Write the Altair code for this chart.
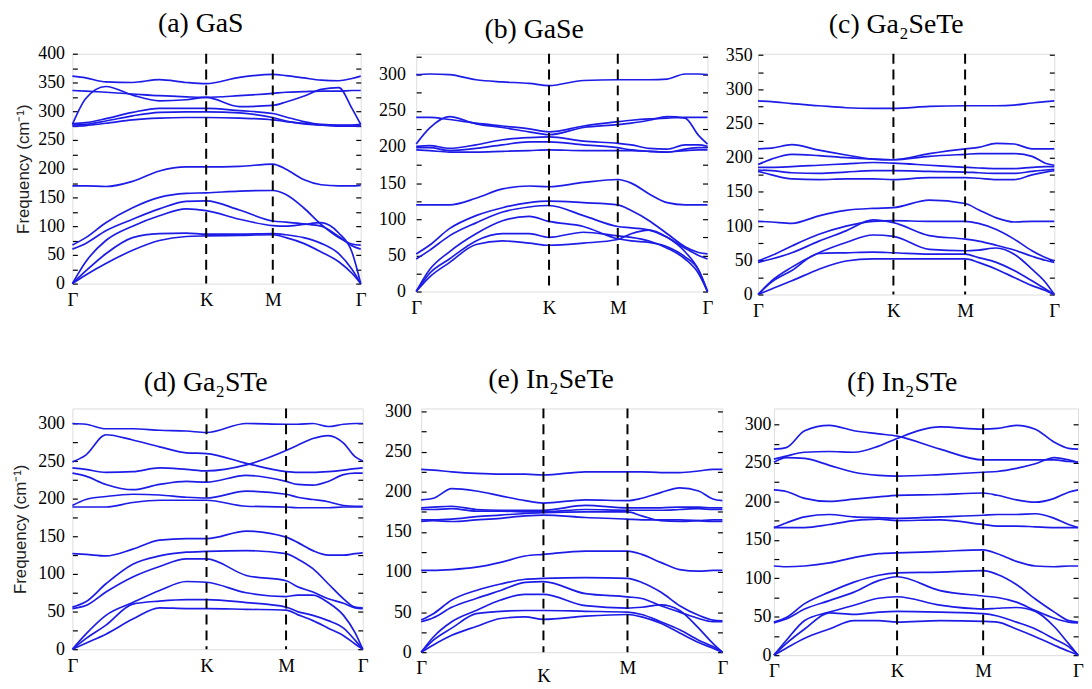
import altair as alt
import pandas as pd

# sample positions along each path segment (fraction of the segment)
GK = [0, 0.1, 0.25, 0.45, 0.65, 0.85, 1.0]
KM = [0.5, 1.0]
MG = [0.15, 0.35, 0.55, 0.75, 0.9, 1.0]

# ---------------- (a) GaS ----------------
a_bands = [
    [361, 358, 351, 350, 355, 350, 348, 359, 364, 362, 358, 354, 353, 357, 361],
    [336, 335, 333, 330, 327, 325, 324, 327, 331, 333, 334, 335, 335, 336, 336],
    [277, 322, 343, 328, 318, 320, 324, 308, 310, 316, 326, 338, 341, 305, 277],
    [278, 280, 287, 298, 305, 305, 305, 301, 296, 290, 282, 277, 276, 276, 277],
    [276, 277, 283, 292, 298, 299, 299, 297, 289, 283, 278, 276, 275, 275, 276],
    [274, 275, 279, 285, 288, 289, 289, 288, 285, 282, 279, 276, 274, 274, 274],
    [170, 170, 169, 178, 196, 203, 203, 204, 208, 199, 181, 172, 170, 170, 171],
    [67, 80, 106, 132, 150, 157, 158, 161, 162, 155, 132, 103, 80, 69, 67],
    [60, 70, 92, 112, 130, 143, 144, 128, 109, 107, 104, 100, 82, 66, 60],
    [0, 38, 75, 100, 118, 130, 127, 112, 101, 100, 103, 106, 88, 55, 0],
    [0, 22, 52, 80, 87, 88, 86, 86, 87, 85, 80, 70, 52, 25, 0],
    [0, 15, 35, 58, 75, 82, 83, 84, 85, 80, 70, 55, 38, 18, 0],
]
# ---------------- (b) GaSe ----------------
b_bands = [
    [300, 301, 300, 293, 290, 288, 285, 292, 293, 293, 293, 294, 301, 301, 300],
    [241, 241, 238, 233, 229, 225, 221, 229, 235, 237, 239, 240, 241, 241, 241],
    [204, 226, 242, 232, 227, 221, 217, 227, 231, 233, 237, 242, 240, 216, 204],
    [201, 202, 198, 203, 210, 213, 214, 208, 205, 203, 198, 197, 203, 203, 201],
    [199, 199, 195, 198, 203, 207, 207, 203, 199, 196, 194, 193, 197, 199, 199],
    [196, 195, 193, 193, 194, 195, 196, 195, 195, 195, 194, 193, 195, 196, 196],
    [120, 120, 120, 129, 142, 146, 145, 151, 155, 150, 135, 123, 120, 120, 120],
    [52, 64, 87, 105, 116, 123, 125, 123, 120, 112, 98, 80, 62, 54, 52],
    [45, 57, 77, 95, 110, 117, 119, 105, 90, 88, 85, 75, 60, 50, 45],
    [0, 30, 55, 80, 98, 104, 97, 90, 73, 70, 68, 62, 48, 30, 0],
    [0, 25, 45, 70, 80, 80, 75, 82, 77, 75, 70, 60, 45, 25, 0],
    [0, 20, 40, 65, 70, 67, 64, 67, 72, 80, 85, 75, 55, 30, 0],
]
# ---------------- (c) Ga2SeTe ----------------
c_bands = [
    [283, 282, 279, 276, 273, 272, 272, 275, 276, 276, 276, 277, 280, 282, 283],
    [213, 214, 219, 211, 204, 198, 197, 206, 213, 215, 221, 220, 213, 213, 213],
    [190, 198, 205, 203, 200, 198, 197, 202, 205, 206, 206, 206, 202, 192, 189],
    [186, 186, 187, 189, 191, 193, 192, 189, 186, 185, 184, 184, 186, 187, 187],
    [182, 181, 178, 177, 179, 181, 181, 180, 179, 178, 177, 177, 180, 182, 183],
    [180, 175, 169, 168, 169, 169, 168, 171, 171, 170, 168, 168, 175, 179, 181],
    [107, 106, 104, 115, 123, 126, 127, 138, 133, 124, 112, 106, 107, 107, 107],
    [49, 57, 71, 88, 100, 107, 108, 107, 107, 104, 95, 81, 64, 54, 49],
    [47, 52, 61, 78, 93, 109, 105, 86, 81, 78, 72, 65, 56, 50, 47],
    [0, 20, 40, 61, 76, 87, 85, 66, 64, 65, 68, 59, 37, 18, 0],
    [0, 18, 35, 60, 61, 62, 61, 59, 59, 54, 47, 35, 20, 8, 0],
    [0, 8, 20, 37, 49, 52, 52, 52, 52, 47, 37, 25, 13, 6, 0],
]
# ---------------- (d) Ga2STe ----------------
d_bands = [
    [300, 299, 293, 293, 291, 290, 288, 300, 299, 299, 300, 296, 299, 300, 300],
    [249, 258, 285, 278, 269, 261, 260, 247, 236, 235, 235, 236, 238, 240, 241],
    [241, 239, 235, 236, 241, 239, 237, 245, 264, 271, 280, 284, 274, 256, 250],
    [234, 230, 219, 212, 219, 223, 222, 231, 223, 219, 218, 223, 232, 234, 234],
    [191, 199, 203, 206, 205, 202, 201, 210, 206, 202, 199, 196, 191, 190, 190],
    [189, 189, 189, 195, 198, 198, 198, 190, 189, 188, 188, 188, 189, 189, 189],
    [127, 126, 124, 133, 145, 147, 147, 157, 149, 142, 131, 125, 125, 127, 128],
    [56, 63, 87, 113, 124, 129, 130, 131, 127, 120, 107, 87, 67, 56, 55],
    [54, 58, 76, 96, 110, 120, 120, 98, 91, 83, 76, 67, 61, 55, 54],
    [0, 20, 45, 62, 78, 90, 89, 75, 70, 72, 72, 62, 45, 22, 0],
    [0, 14, 32, 60, 64, 66, 66, 62, 56, 50, 45, 38, 28, 12, 0],
    [0, 8, 20, 40, 55, 54, 54, 53, 52, 46, 38, 28, 18, 7, 0],
]
# ---------------- (e) In2SeTe ----------------
e_bands = [
    [228, 227, 225, 223, 222, 222, 221, 225, 225, 225, 224, 224, 226, 228, 228],
    [190, 192, 204, 201, 195, 189, 186, 190, 189, 192, 199, 205, 201, 191, 189],
    [180, 181, 182, 178, 177, 177, 177, 183, 180, 180, 180, 181, 181, 180, 180],
    [178, 178, 179, 176, 176, 175, 175, 178, 177, 177, 177, 178, 179, 178, 178],
    [165, 165, 166, 169, 171, 173, 174, 175, 175, 170, 164, 163, 164, 165, 165],
    [163, 164, 163, 165, 167, 170, 171, 168, 166, 165, 165, 165, 164, 163, 163],
    [102, 102, 103, 106, 112, 120, 122, 126, 126, 122, 112, 103, 101, 102, 102],
    [40, 48, 65, 77, 85, 91, 92, 93, 92, 87, 75, 58, 46, 40, 39],
    [38, 43, 56, 67, 77, 87, 88, 73, 69, 67, 58, 50, 42, 38, 38],
    [0, 19, 38, 52, 65, 72, 72, 58, 55, 56, 59, 52, 30, 11, 0],
    [0, 15, 30, 48, 51, 52, 52, 51, 50, 47, 38, 28, 15, 7, 0],
    [0, 9, 21, 32, 42, 44, 41, 45, 47, 44, 36, 24, 12, 5, 0],
]
# ---------------- (f) In2STe ----------------
f_bands = [
    [268, 270, 292, 299, 292, 288, 285, 268, 254, 254, 254, 254, 254, 252, 251],
    [255, 259, 264, 265, 264, 272, 282, 297, 294, 295, 299, 294, 277, 269, 268],
    [251, 257, 256, 247, 238, 234, 233, 235, 238, 239, 243, 249, 257, 254, 251],
    [215, 213, 204, 200, 203, 206, 208, 209, 211, 208, 202, 199, 204, 212, 215],
    [166, 172, 180, 183, 180, 179, 178, 180, 182, 183, 183, 184, 178, 170, 166],
    [166, 166, 166, 170, 175, 177, 175, 176, 170, 168, 168, 167, 166, 166, 166],
    [116, 115, 116, 120, 127, 132, 133, 135, 137, 132, 122, 116, 115, 116, 116],
    [43, 49, 67, 82, 95, 104, 107, 108, 110, 105, 92, 73, 56, 45, 43],
    [42, 47, 60, 71, 82, 97, 102, 84, 77, 75, 69, 58, 48, 43, 42],
    [0, 19, 45, 56, 65, 74, 76, 65, 60, 61, 62, 57, 37, 15, 0],
    [0, 15, 34, 55, 53, 56, 57, 56, 54, 51, 43, 34, 21, 11, 0],
    [0, 9, 22, 34, 45, 45, 43, 45, 44, 43, 34, 24, 13, 5, 0],
]

titles = ["(a) GaS", "(b) GaSe", "(c) Ga\u2082SeTe", "(d) Ga\u2082STe", "(e) In\u2082SeTe", "(f) In\u2082STe"]
# path position of K and M (fraction of the whole Γ-K-M-Γ path)
k_pos = [0.464, 0.456, 0.457, 0.462, 0.406, 0.405]
m_pos = [0.695, 0.692, 0.699, 0.736, 0.685, 0.688]
y_max = [400, 329, 352, 320, 304, 321]

BLUE = "#1c1ce6"
SERIF = "Liberation Serif"
YTITLE = "Frequency (cm\u207b\u00b9)"


def panel(i, bands, w, h, dx, toff, ytitle=None, lpad=8, tpad=5, kdrop=0):
    kf, mf = k_pos[i], m_pos[i]
    xs = ([f * kf for f in GK] + [kf + f * (mf - kf) for f in KM]
          + [mf + f * (1 - mf) for f in MG])
    rows = [{"q": x, "freq": v, "band": j}
            for j, b in enumerate(bands) for x, v in zip(xs, b)]
    df = pd.DataFrame(rows)
    ymax = y_max[i]
    tick_vals = list(range(0, ymax + 1, 25))
    xscale = alt.Scale(domain=[0, 1], nice=False)
    yscale = alt.Scale(domain=[0, ymax], nice=False)
    xpad = 7
    if kdrop:
        xpad = {"condition": {"test": f"abs(datum.value - {kf}) < 0.001",
                              "value": 7 + kdrop}, "value": 7}
    xaxis = alt.Axis(
        values=[0, kf, mf, 1],
        labelExpr=(f"datum.value < 0.01 || datum.value > 0.99 ? '\u0393' : "
                   f"(abs(datum.value - {kf}) < 0.001 ? 'K' : 'M')"),
        title=None, grid=False, domain=False, ticks=False, labelFlush=False,
        labelFont=SERIF, labelFontSize=19, labelPadding=xpad, labelColor="black",
    )
    yaxis = alt.Axis(
        values=tick_vals,
        labelExpr="datum.value % 50 == 0 ? datum.label : ''",
        title=ytitle, grid=False, domain=False, ticks=True, tickSize=5,
        offset=-5, tickColor="black", tickWidth=1.2,
        labelFont=SERIF, labelFontSize=18, labelPadding=lpad, labelColor="black",
        titleFont="Liberation Sans", titleFontSize=17, titleFontWeight="normal",
        titleColor="#222222", titlePadding=tpad,
    )
    raxis = alt.Axis(
        orient="right", values=tick_vals, labels=False, title=None, grid=False,
        domain=False, ticks=True, tickSize=5, offset=-5, tickColor="black",
        tickWidth=1.2,
    )
    lines = alt.Chart(df).mark_line(
        interpolate="monotone", color=BLUE, strokeWidth=1.7
    ).encode(
        x=alt.X("q:Q", scale=xscale, axis=xaxis),
        y=alt.Y("freq:Q", scale=yscale, axis=yaxis),
        detail="band:N",
    )
    rules = alt.Chart(pd.DataFrame({"q": [kf, mf]})).mark_rule(
        color="black", strokeDash=[10, 6], strokeWidth=2
    ).encode(x=alt.X("q:Q", scale=xscale, axis=xaxis))
    edge = alt.Chart(pd.DataFrame({"freq": [0, ymax]})).mark_point(opacity=0).encode(
        y=alt.Y("freq:Q", scale=yscale, axis=raxis)
    )
    return alt.layer(lines, rules, edge).resolve_scale(y="independent").properties(
        width=w, height=h,
        title=alt.Title(titles[i], dx=dx, offset=toff,
                        font=SERIF, fontSize=28, fontWeight="normal", color="black"),
    )


pa = panel(0, a_bands, 291, 232, -16, 7, YTITLE)
pb = panel(1, b_bands, 294, 240, -28, 7, lpad=11)
pc = panel(2, c_bands, 299, 243, -10, 7, lpad=6)
pd_ = panel(3, d_bands, 293, 243, -12, 9, YTITLE, tpad=8)
pe = panel(4, e_bands, 304, 246, -21, 9, lpad=10, kdrop=8)
pf = panel(5, f_bands, 307, 249, -24, 9, lpad=3)

row1 = alt.hconcat(pa, pb, pc, spacing=11)
row2 = alt.hconcat(pd_, pe, pf, spacing=15)
chart = alt.vconcat(row1, row2, spacing=44).properties(
    padding={"left": 3, "top": -2, "right": 0, "bottom": 0}
).configure_view(stroke="black", strokeWidth=1.5).configure(background="white")

chart.save("out.html", embed_options={"renderer": "svg", "actions": False})
